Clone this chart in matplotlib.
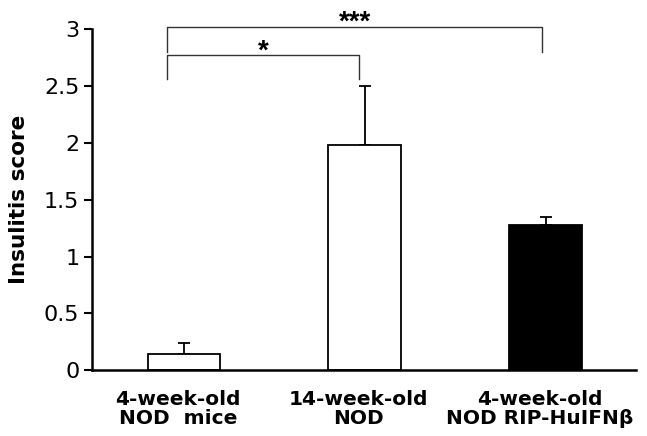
import matplotlib
matplotlib.use("Agg")
import matplotlib.pyplot as plt
from matplotlib.transforms import ScaledTranslation

plt.rcParams['font.family'] = ['DejaVu Sans']

# group labels and insulitis scores (mean, upper SEM)
groups = ["4-week-old\nNOD  mice", "14-week-old\nNOD", "4-week-old\nNOD RIP-HuIFN\u03b2"]
scores = [0.14, 1.98, 1.28]
sem = [0.10, 0.52, 0.07]
bar_colors = ["white", "white", "black"]
yticks = [0, 0.5, 1, 1.5, 2, 2.5, 3]
yticklabels = ["0", "0.5", "1", "1.5", "2", "2.5", "3"]

# significance brackets: (left x, right x, line y, leg bottom, stars)
brackets = [
    (-0.09, 0.97, 2.77, 2.565, "*"),
    (-0.09, 1.98, 3.02, 2.80, "***"),
]

fig = plt.figure(figsize=(6.47, 4.36), dpi=100)
ax = fig.add_axes([0.142, 0.151, 0.841, 0.782])

x = range(len(groups))
ax.bar(x, scores, width=0.40, color=bar_colors, edgecolor="black", linewidth=1.3, zorder=2)
ax.errorbar(x, scores, yerr=[[0] * len(sem), sem], fmt="none", ecolor="black",
            elinewidth=1.3, capsize=4, capthick=1.3, zorder=1)

for x0, x1, y, ylow, stars in brackets:
    ax.plot([x0, x0, x1, x1], [ylow, y, y, ylow], color="#333333", lw=1.0, clip_on=False)
    ax.text((x0 + x1) / 2, y - 0.025, stars, ha="center", va="baseline",
            fontsize=20, fontweight="bold", family="Liberation Sans", clip_on=False)

ax.set_xlim(-0.508, 2.5)
ax.set_ylim(0, 3)
ax.set_yticks(yticks)
ax.set_yticklabels(yticklabels, fontsize=16)
ax.set_xticks(list(x))
ax.set_xticklabels(groups, fontsize=14.5, fontweight="bold", linespacing=1.05)
ax.tick_params(axis="x", length=0, pad=14)
ax.tick_params(axis="y", direction="out", length=6, width=1.5, pad=3)
ax.set_ylabel("Insulitis score", fontsize=15.5, fontweight="bold", labelpad=11)

# group names sit a little left of the bar centres
shift = ScaledTranslation(-0.06, 0, fig.dpi_scale_trans)
for lbl in ax.get_xticklabels():
    lbl.set_transform(lbl.get_transform() + shift)

for side in ["top", "right"]:
    ax.spines[side].set_visible(False)
for side in ["left", "bottom"]:
    ax.spines[side].set_linewidth(1.8)

fig.savefig("out.png", dpi=100)
